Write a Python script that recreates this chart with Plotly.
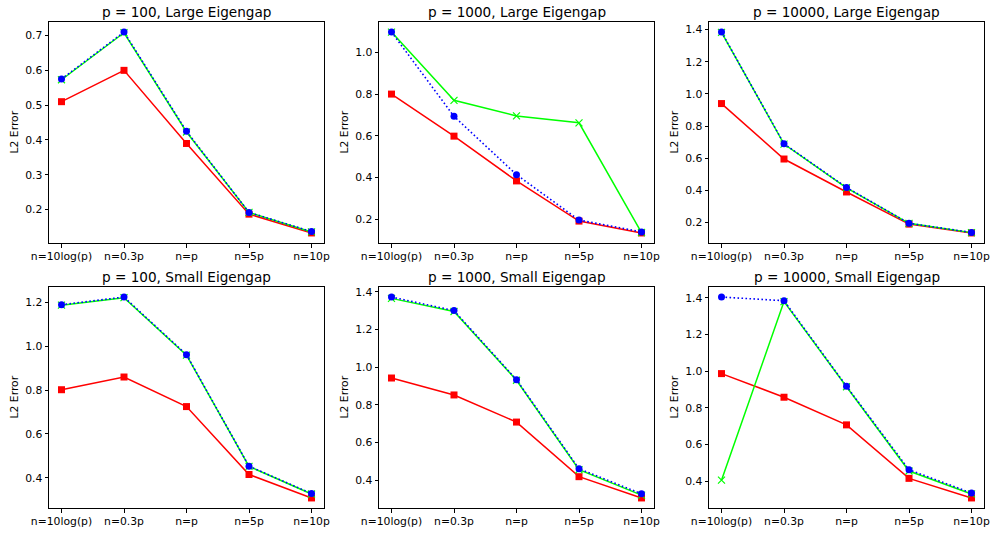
import plotly.graph_objects as go

categories = ["n=10log(p)", "n=0.3p", "n=p", "n=5p", "n=10p"]
titles = [
    "p = 100, Large Eigengap", "p = 1000, Large Eigengap", "p = 10000, Large Eigengap",
    "p = 100, Small Eigengap", "p = 1000, Small Eigengap", "p = 10000, Small Eigengap",
]

red_series = [
    [0.510, 0.600, 0.390, 0.187, 0.133],
    [0.800, 0.598, 0.383, 0.190, 0.133],
    [0.940, 0.595, 0.390, 0.190, 0.135],
    [0.802, 0.860, 0.725, 0.415, 0.308],
    [0.942, 0.852, 0.708, 0.418, 0.305],
    [0.987, 0.858, 0.707, 0.415, 0.308],
]
green_series = [
    [0.573, 0.708, 0.423, 0.192, 0.136],
    [1.098, 0.770, 0.695, 0.662, 0.135],
    [1.383, 0.688, 0.416, 0.195, 0.137],
    [1.188, 1.222, 0.960, 0.452, 0.326],
    [1.365, 1.295, 0.930, 0.455, 0.320],
    [0.405, 1.380, 0.915, 0.455, 0.330],
]
blue_series = [
    [0.575, 0.710, 0.425, 0.192, 0.137],
    [1.098, 0.693, 0.413, 0.195, 0.138],
    [1.385, 0.690, 0.418, 0.195, 0.138],
    [1.190, 1.225, 0.962, 0.453, 0.328],
    [1.372, 1.300, 0.933, 0.460, 0.327],
    [1.405, 1.385, 0.918, 0.462, 0.335],
]
y_dticks = [0.1, 0.2, 0.2, 0.2, 0.2, 0.2]

W, H = 992, 533
col_px = [(49, 324), (379, 654), (709, 984)]
row_px = [(22, 243), (287, 508)]
font_family = "DejaVu Sans"
tick_size = 10.8
title_size = 13.6

fig = go.Figure()
annotations = []
xs = list(range(len(categories)))

for i in range(6):
    r, c = divmod(i, 3)
    ax = "" if i == 0 else str(i + 1)
    xref, yref = "x" + ax, "y" + ax
    x0, x1 = col_px[c]
    y0, y1 = row_px[r]
    allv = red_series[i] + green_series[i] + blue_series[i]
    lo, hi = min(allv), max(allv)
    pad = 0.05 * (hi - lo)
    fig.add_trace(go.Scatter(x=xs, y=red_series[i], mode="lines+markers",
                             line=dict(color="#FF0000", width=1.5),
                             marker=dict(symbol="square", size=7, color="#FF0000"),
                             xaxis=xref, yaxis=yref, showlegend=False))
    fig.add_trace(go.Scatter(x=xs, y=green_series[i], mode="lines+markers",
                             line=dict(color="#00FF00", width=1.5),
                             marker=dict(symbol="x-thin", size=7,
                                         line=dict(color="#00FF00", width=1.2)),
                             xaxis=xref, yaxis=yref, showlegend=False))
    fig.add_trace(go.Scatter(x=xs, y=blue_series[i], mode="lines+markers",
                             line=dict(color="#0000FF", width=1.6, dash="1.6px,2.4px"),
                             marker=dict(symbol="circle", size=7, color="#0000FF"),
                             xaxis=xref, yaxis=yref, showlegend=False))
    axis_common = dict(showline=True, linecolor="black", linewidth=1, mirror=True,
                       ticks="outside", ticklen=3.5, tickwidth=1, tickcolor="black",
                       showgrid=False, zeroline=False, automargin=False,
                       tickfont=dict(family=font_family, size=tick_size, color="black"))
    fig.layout["xaxis" + ax] = dict(
        domain=[x0 / W, x1 / W], anchor=yref, range=[-0.2, 4.2],
        tickmode="array", tickvals=xs, ticktext=categories, **axis_common)
    fig.layout["yaxis" + ax] = dict(
        domain=[1 - y1 / H, 1 - y0 / H], anchor=xref, range=[lo - pad, hi + pad],
        dtick=y_dticks[i], tick0=0, tickformat=".1f", **axis_common)
    annotations.append(dict(text=titles[i], x=(x0 + x1) / 2 / W, y=1 - (y0 - 10) / H,
                            xref="paper", yref="paper", xanchor="center", yanchor="middle",
                            showarrow=False,
                            font=dict(family=font_family, size=title_size, color="black")))
    annotations.append(dict(text="L2 Error", x=(x0 - 35) / W, y=1 - (y0 + y1) / 2 / H,
                            xref="paper", yref="paper", xanchor="center", yanchor="middle",
                            textangle=-90, showarrow=False,
                            font=dict(family=font_family, size=tick_size, color="black")))

fig.update_layout(width=W, height=H, margin=dict(l=0, r=0, t=0, b=0, autoexpand=False),
                  paper_bgcolor="white", plot_bgcolor="white", template="none",
                  annotations=annotations, showlegend=False)
fig.write_html("out.html", config={"displayModeBar": False},
               post_script="document.body.style.margin='0px';document.body.style.overflow='hidden';")
